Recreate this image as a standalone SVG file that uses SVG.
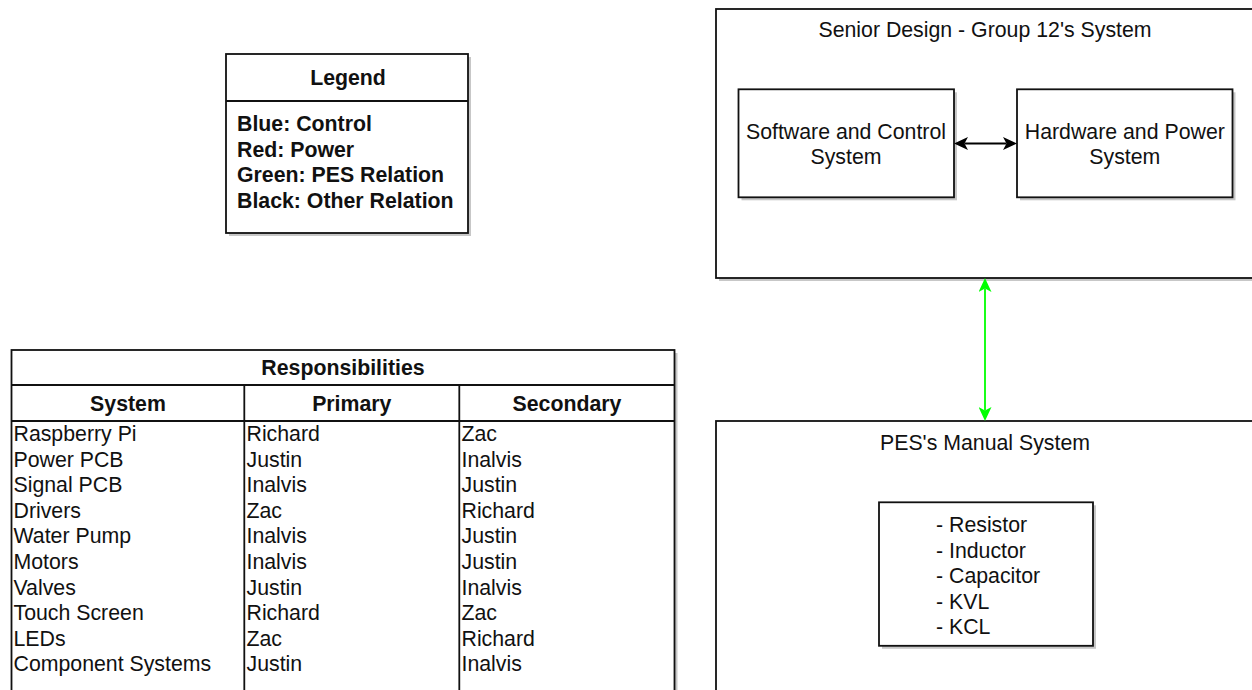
<svg xmlns="http://www.w3.org/2000/svg" width="1252" height="690" viewBox="0 0 1252 690">
  <style>
    text { font-family: "Liberation Sans", Arial, sans-serif; font-size: 21.3px; fill: #111; }
    .b { font-weight: bold; }
    .c { text-anchor: middle; }
    .box { fill: #fff; stroke: #111; stroke-width: 1.8; }
    .ln { fill: none; stroke: #111; stroke-width: 1.8; }
    .sh { fill: #000; opacity: 0.22; }
  </style>
  <defs>
    <marker id="arrBlack" viewBox="0 0 14 13" markerUnits="userSpaceOnUse" markerWidth="14" markerHeight="13" refX="3.5" refY="6.5" orient="auto-start-reverse">
      <path d="M0,0 L14,6.5 L0,13 L3.5,6.5 z" fill="#000"/>
    </marker>
    <marker id="arrGreen" viewBox="0 0 14 13" markerUnits="userSpaceOnUse" markerWidth="14" markerHeight="13" refX="3.5" refY="6.5" orient="auto-start-reverse">
      <path d="M0,0 L14,6.5 L0,13 L3.5,6.5 z" fill="#00ff00"/>
    </marker>
  </defs>
  <rect width="1252" height="690" fill="#fff"/>

  <g id="legend">
    <rect class="sh" x="229" y="57" width="242" height="179"/>
    <rect class="box" x="226" y="54" width="242" height="179"/>
    <line class="ln" x1="226" y1="101" x2="468" y2="101"/>
    <text class="b c" x="348" y="85">Legend</text>
    <text class="b" x="237" y="131">Blue: Control</text>
    <text class="b" x="237" y="156.5">Red: Power</text>
    <text class="b" x="237" y="182">Green: PES Relation</text>
    <text class="b" x="237" y="207.5">Black: Other Relation</text>
  </g>

  <g id="senior-design">
    <rect class="sh" x="719" y="12" width="538" height="269"/>
    <rect class="box" x="716" y="9" width="538" height="269"/>
    <text class="c" x="985" y="37">Senior Design - Group 12's System</text>
  </g>

  <g id="software-control">
    <rect class="sh" x="741.5" y="92.3" width="215.5" height="108"/>
    <rect class="box" x="738.5" y="89.3" width="215.5" height="108"/>
    <text class="c" x="846" y="138.5">Software and Control</text>
    <text class="c" x="846" y="164">System</text>
  </g>

  <g id="hardware-power">
    <rect class="sh" x="1020" y="92.3" width="215.5" height="108"/>
    <rect class="box" x="1017" y="89.3" width="215.5" height="108"/>
    <text class="c" x="1124.8" y="138.5">Hardware and Power</text>
    <text class="c" x="1124.8" y="164">System</text>
  </g>

  <g id="pes-manual">
    <rect class="sh" x="719" y="424" width="538" height="280"/>
    <rect class="box" x="716" y="421" width="538" height="280"/>
    <text class="c" x="985" y="450">PES's Manual System</text>
  </g>

  <g id="pes-list">
    <rect class="sh" x="882" y="505.3" width="214" height="143.5"/>
    <rect class="box" x="879" y="502.3" width="214" height="143.5"/>
    <text x="936" y="532">- Resistor</text>
    <text x="936" y="557.6">- Inductor</text>
    <text x="936" y="583.2">- Capacitor</text>
    <text x="936" y="608.8">- KVL</text>
    <text x="936" y="634.4">- KCL</text>
  </g>

  <g id="responsibilities">
    <rect class="sh" x="14.5" y="353" width="663" height="350"/>
    <rect class="box" x="11.5" y="350" width="663" height="350"/>
    <line class="ln" x1="11.5" y1="385" x2="674.5" y2="385"/>
    <line class="ln" x1="11.5" y1="421" x2="674.5" y2="421"/>
    <line class="ln" x1="244.3" y1="385" x2="244.3" y2="700"/>
    <line class="ln" x1="459.3" y1="385" x2="459.3" y2="700"/>
    <text class="b c" x="343" y="375">Responsibilities</text>
    <text class="b c" x="128" y="410.5">System</text>
    <text class="b c" x="351.8" y="410.5">Primary</text>
    <text class="b c" x="567" y="410.5">Secondary</text>
    <g id="col-system">
      <text x="13.5" y="441">Raspberry Pi</text>
      <text x="13.5" y="466.6">Power PCB</text>
      <text x="13.5" y="492.2">Signal PCB</text>
      <text x="13.5" y="517.8">Drivers</text>
      <text x="13.5" y="543.4">Water Pump</text>
      <text x="13.5" y="569">Motors</text>
      <text x="13.5" y="594.6">Valves</text>
      <text x="13.5" y="620.2">Touch Screen</text>
      <text x="13.5" y="645.8">LEDs</text>
      <text x="13.5" y="671.4">Component Systems</text>
    </g>
    <g id="col-primary">
      <text x="246.5" y="441">Richard</text>
      <text x="246.5" y="466.6">Justin</text>
      <text x="246.5" y="492.2">Inalvis</text>
      <text x="246.5" y="517.8">Zac</text>
      <text x="246.5" y="543.4">Inalvis</text>
      <text x="246.5" y="569">Inalvis</text>
      <text x="246.5" y="594.6">Justin</text>
      <text x="246.5" y="620.2">Richard</text>
      <text x="246.5" y="645.8">Zac</text>
      <text x="246.5" y="671.4">Justin</text>
    </g>
    <g id="col-secondary">
      <text x="461.5" y="441">Zac</text>
      <text x="461.5" y="466.6">Inalvis</text>
      <text x="461.5" y="492.2">Justin</text>
      <text x="461.5" y="517.8">Richard</text>
      <text x="461.5" y="543.4">Justin</text>
      <text x="461.5" y="569">Justin</text>
      <text x="461.5" y="594.6">Inalvis</text>
      <text x="461.5" y="620.2">Zac</text>
      <text x="461.5" y="645.8">Richard</text>
      <text x="461.5" y="671.4">Inalvis</text>
    </g>
  </g>

  <g id="connectors">
    <line x1="964.5" y1="143.5" x2="1006.5" y2="143.5" stroke="#000" stroke-width="1.8" marker-start="url(#arrBlack)" marker-end="url(#arrBlack)"/>
    <line x1="985" y1="288.5" x2="985" y2="410.5" stroke="#00ff00" stroke-width="1.8" marker-start="url(#arrGreen)" marker-end="url(#arrGreen)"/>
  </g>
</svg>
